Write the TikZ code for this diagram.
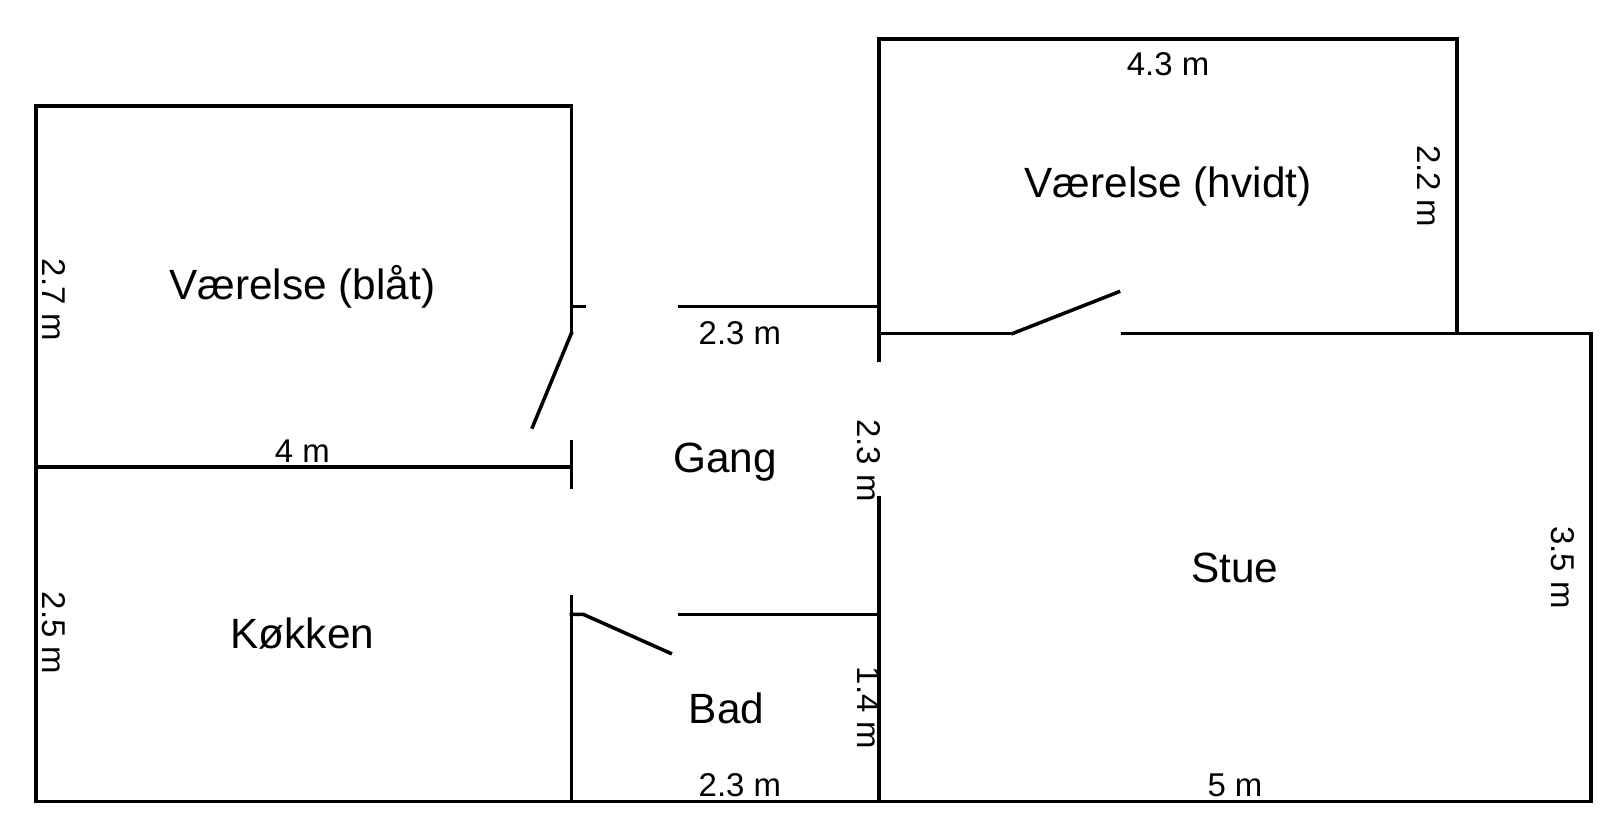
\documentclass[tikz,border=0pt]{standalone}
\usepackage{fontspec}
\setmainfont{Liberation Sans}
\begin{document}
\begin{tikzpicture}[
    wall/.style={line width=0.75pt, line cap=rect},
    room/.style={font=\fontsize{9}{11}\selectfont, inner sep=0pt},
    dim/.style={font=\fontsize{7}{8}\selectfont, inner sep=0pt},
    vdim/.style={dim, rotate=-90}
]
    \useasboundingbox (-0.27,-0.255) rectangle (11.838,5.992);

    % Les murs extérieurs
    \draw[wall] (4,3.5) -- (4,5.2) -- (0,5.2) -- (0,0) -- (11.62,0) -- (11.62,3.5) -- (8.12,3.5);
    \draw[wall] (6.3,3.3) -- (6.3,5.7) -- (10.62,5.7) -- (10.62,3.5);
    \draw[wall] (6.3,3.5) -- (7.3,3.5);

    % Les murs intérieurs
    \draw[wall] (0,2.5) -- (4,2.5);
    \draw[wall] (4,2.35) -- (4,2.69);
    \draw[wall] (4,0) -- (4,1.53);
    \draw[wall] (4.81,3.7) -- (6.3,3.7);
    \draw[wall] (4.81,1.4) -- (6.3,1.4);
    \draw[wall] (6.3,0) -- (6.3,2.27);

    % Les portes
    \draw[wall] (4,3.7) -- (4.1,3.7);
    \draw[wall] (4,3.5) -- (3.71,2.8);
    \draw[wall] (4,1.4) -- (4.09,1.4) -- (4.74,1.11);
    \draw[wall] (7.3,3.5) -- (8.09,3.81);

    % Les pièces
    \node[room] (blaat) at (1.99,3.85) {Værelse (blåt)};
    \node[room] (koekken) at (1.99,1.26) {Køkken};
    \node[room] (gang) at (5.15,2.54) {Gang};
    \node[room] (bad) at (5.16,0.7) {Bad};
    \node[room] (stue) at (8.96,1.75) {Stue};
    \node[room] (hvidt) at (8.46,4.6) {Værelse (hvidt)};

    % Les mesures
    \node[dim] (mblaat) at (1.99,2.62) {4 m};
    \node[vdim] (hblaat) at (0.13,3.75) {2.7 m};
    \node[vdim] (hkoekken) at (0.13,1.26) {2.5 m};
    \node[dim] (mgang) at (5.26,3.5) {2.3 m};
    \node[vdim] (hgang) at (6.22,2.55) {2.3 m};
    \node[vdim] (hbad) at (6.22,0.7) {1.4 m};
    \node[dim] (mbad) at (5.26,0.12) {2.3 m};
    \node[dim] (mstue) at (8.96,0.12) {5 m};
    \node[vdim] (hstue) at (11.41,1.75) {3.5 m};
    \node[dim] (mhvidt) at (8.46,5.51) {4.3 m};
    \node[vdim] (hhvidt) at (10.41,4.6) {2.2 m};

\end{tikzpicture}
\end{document}
